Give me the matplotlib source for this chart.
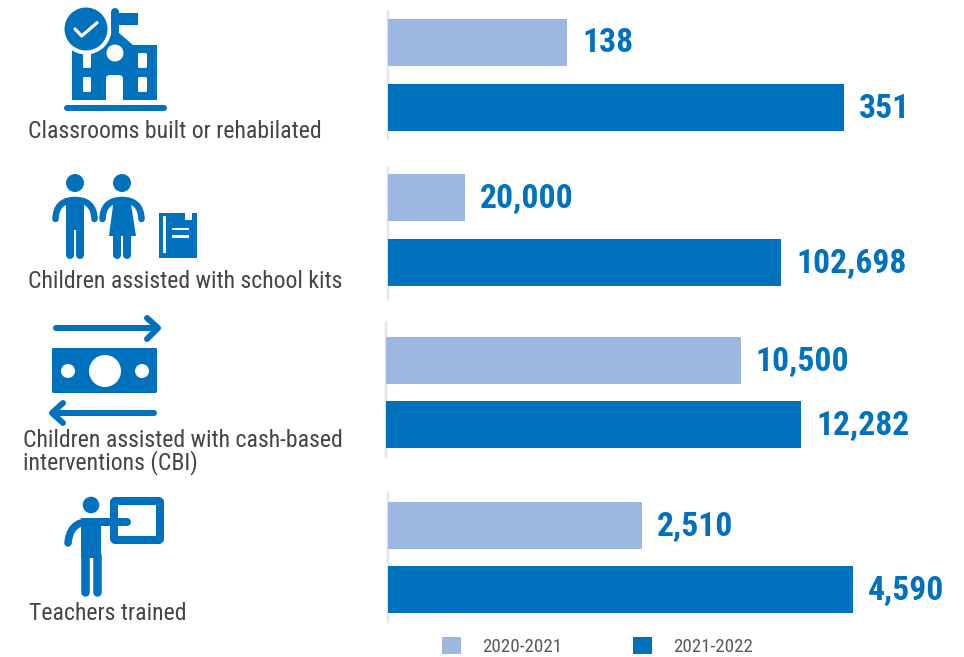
import matplotlib
matplotlib.use('Agg')
import matplotlib.pyplot as plt
from matplotlib.patches import Circle, Rectangle, Polygon, FancyBboxPatch, PathPatch
from matplotlib.path import Path

# values
years = ['2020-2021', '2021-2022']
activities = ['Classrooms built or rehabilated', 'Children assisted with school kits',
              'Children assisted with cash-based\ninterventions (CBI)', 'Teachers trained']
values_2021 = [138, 20000, 10500, 2510]
values_2022 = [351, 102698, 12282, 4590]

LIGHT = '#9DB8E0'
BLUE = '#0071BC'
W, H = 964, 657
FONT = ['Roboto Condensed', 'Roboto']

# every panel has its own scale: pixels per unit, axis left, axis top, axis bottom, first/second bar centre
scales = [1.30, 0.00383, 0.0338, 0.1013]
panels = [(388, 12, 139, 42.5, 107.5),
          (388, 168, 299, 197.5, 262.5),
          (386, 323, 457, 360.5, 424.5),
          (388, 493, 622, 525.5, 589.5)]
label_pos = [(28, 131), (28, 281), (23, 452), (29, 614)]

fig = plt.figure(figsize=(W / 100, H / 100), dpi=100)


def px(n):
    return n * 0.72


handles = []
for i, (left, top, bottom, c0, c1) in enumerate(panels):
    ax = fig.add_axes([left / W, 1 - bottom / H, (W - left) / W, (bottom - top) / H])
    step = c1 - c0
    bars = ax.barh([0, 1], [values_2021[i], values_2022[i]], height=47 / step, color=[LIGHT, BLUE], zorder=3)
    ax.set_xlim(0, (W - left) / scales[i])
    ax.set_ylim((bottom - c0) / step, (top - c0) / step)
    ax.set_xticks([])
    ax.set_yticks([])
    for s in ['top', 'right', 'bottom']:
        ax.spines[s].set_visible(False)
    ax.spines['left'].set_color('#E6E6E6')
    ax.spines['left'].set_linewidth(px(2.5))
    ax.spines['left'].set_zorder(1)
    for j, val in enumerate([values_2021[i], values_2022[i]]):
        ax.annotate(f'{val:,}', (val, j), xytext=(px(15), px(-1)), textcoords='offset points',
                    va='center', ha='left', color=BLUE, fontsize=24.2, fontweight='bold', family=FONT)
    if i == 0:
        handles = [bars[0], bars[1]]

# overlay in pixel coordinates for icons and left labels
ov = fig.add_axes([0, 0, 1, 1], zorder=5)
ov.set_xlim(0, W)
ov.set_ylim(H, 0)
ov.axis('off')

for name, (x, y) in zip(activities, label_pos):
    ov.text(x, y, name, fontsize=17.1, color='#444444', family=FONT, va='center', ha='left', linespacing=0.95)


def stroke(pts, lw, color=BLUE, cap='round'):
    ov.plot([p[0] for p in pts], [p[1] for p in pts], color=color, lw=px(lw),
            solid_capstyle=cap, solid_joinstyle='round')


def arc(a, ctrl, b, lw):
    ov.add_patch(PathPatch(Path([a, ctrl, b], [Path.MOVETO, Path.CURVE3, Path.CURVE3]),
                           fill=False, edgecolor=BLUE, lw=px(lw), capstyle='round'))


def dot(x, y, r, color=BLUE):
    ov.add_patch(Circle((x, y), r, color=color, lw=0))


def box(x0, y0, x1, y1, color='white', pad=1.5):
    ov.add_patch(FancyBboxPatch((x0 + pad, y0 + pad), x1 - x0 - 2 * pad, y1 - y0 - 2 * pad,
                                boxstyle=f'round,pad={pad}', color=color, lw=0))


# school
stroke([(66.5, 108), (163.5, 108)], 6)
ov.add_patch(Polygon([(72, 100), (72, 48), (111, 35), (111, 12), (119, 12), (119, 33), (133, 45), (157, 45), (157, 100)],
                     color=BLUE, lw=0))
stroke([(115, 12), (115, 30)], 8)
ov.add_patch(Rectangle((118, 13), 20, 12, color=BLUE, lw=0))
dot(115, 53, 8.5, 'white')
box(138, 53, 147, 68)
box(138, 77, 147, 92)
box(83, 77, 91, 92)
box(83, 50, 91, 68)
box(106, 75, 123, 101, pad=4)
ov.add_patch(Rectangle((106, 85), 17, 15, color='white', lw=0))
dot(86, 29, 25.5, 'white')
dot(86, 29, 21.5)
stroke([(75, 29), (81.7, 36), (97, 22.7)], 3.2, 'white')

# children and book
dot(75, 183, 9)
dot(122, 183, 9)
arc((55.5, 219), (56, 200), (75, 200), 6.5)
arc((94.5, 219), (94, 200), (75, 200), 6.5)
ov.add_patch(Rectangle((66, 198), 18, 32, color=BLUE, lw=0))
stroke([(70, 228), (70, 255)], 8)
stroke([(80, 228), (80, 255)], 8)
arc((102.5, 219), (103, 200), (122, 200), 6.5)
arc((141.5, 219), (141, 200), (122, 200), 6.5)
ov.add_patch(Polygon([(114, 198), (130, 198), (136, 236), (109, 236)], color=BLUE, lw=0))
stroke([(117, 234), (117, 255)], 8)
stroke([(127, 234), (127, 255)], 8)
ov.add_patch(Polygon([(159, 213), (185, 213), (185, 220), (192, 220), (192, 213), (197, 213), (197, 258), (159, 258)],
                     color=BLUE, lw=0))
ov.add_patch(Rectangle((163, 216), 2.5, 37, color='white', lw=0))
ov.add_patch(Rectangle((172, 227.5), 17, 2.5, color='white', lw=0))
ov.add_patch(Rectangle((172, 235), 17, 2.5, color='white', lw=0))

# cash
stroke([(56, 328), (157, 328)], 6)
stroke([(147, 318), (158, 328), (147, 339)], 6)
box(52, 348, 157, 393, BLUE)
dot(105, 371, 16, 'white')
dot(68, 371, 7, 'white')
dot(142, 371, 7, 'white')
stroke([(154, 413), (53, 413)], 6)
stroke([(63, 403), (52, 413), (63, 423)], 6)

# teacher
dot(91, 505, 8.3)
ov.add_patch(FancyBboxPatch((114, 501), 46, 39, boxstyle='round,pad=0,rounding_size=1.5', fill=False, edgecolor=BLUE, lw=px(8)))
ov.add_patch(Rectangle((81, 518), 20, 40, color=BLUE, lw=0))
stroke([(95, 522), (127, 522)], 8)
arc((68, 543), (70, 522), (88, 522), 7.5)
stroke([(85.3, 555), (85.3, 592)], 8.5)
stroke([(96.8, 555), (96.8, 592)], 8.5)

fig.legend(handles, years, ncol=2, loc='lower left', bbox_to_anchor=(438 / W, -3 / H), frameon=False,
           prop={'family': FONT, 'size': 13.7}, labelcolor='#595959', handlelength=1.0, handleheight=1.0,
           handletextpad=1.1, columnspacing=3.75, borderpad=0.2, borderaxespad=0)

fig.savefig('out.png', dpi=100)
